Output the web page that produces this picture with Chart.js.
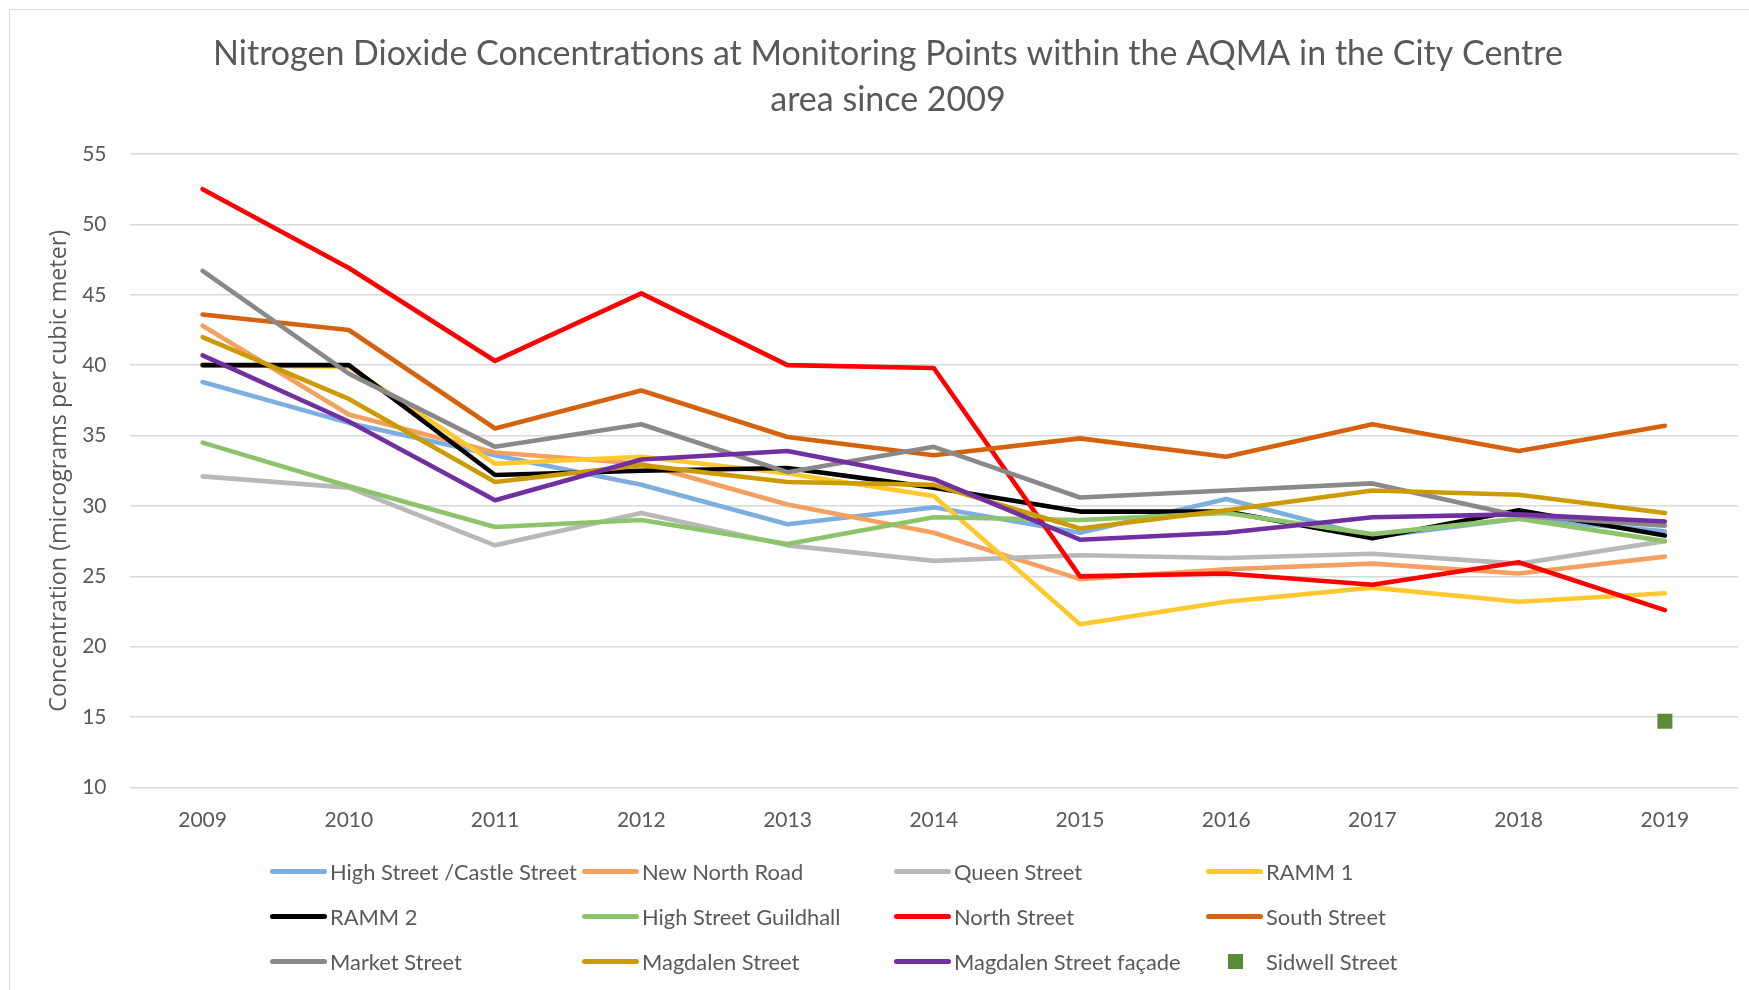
<!DOCTYPE html>
<html>
<head>
<meta charset="utf-8">
<script src="https://cdn.jsdelivr.net/npm/chart.js@4"></script>
<style>
  html, body { margin: 0; padding: 0; background: #fff; overflow: hidden; }
  .wrap { position: relative; width: 1749px; height: 990px; }
  .frame { position: absolute; left: 9px; top: 9px; width: 2000px; height: 2000px; border: 1px solid #d9d9d9; box-sizing: border-box; }
  #chart { position: absolute; left: 0; top: 0; }
  .legend { position: absolute; left: 270px; top: 857px; width: 1260px; }
  .legend__item { position: absolute; display: flex; align-items: center; height: 28px; font-family: Lato, sans-serif; font-size: 21.9px; color: #595959; white-space: nowrap; }
  .legend__mark { width: 57px; height: 28px; position: relative; margin-right: 3px; }
  .legend__mark span { position: absolute; left: 0; top: 11.5px; width: 57px; height: 5px; border-radius: 3px; }
  .legend__mark span.square { left: 22px; top: 6.5px; width: 15px; height: 15px; border-radius: 0; }
</style>
</head>
<body>
<div class="wrap">
  <div class="frame"></div>
  <canvas id="chart" width="1749" height="990"></canvas>
  <div class="legend" id="legend"></div>
</div>
<script>
const years = ["2009", "2010", "2011", "2012", "2013", "2014", "2015", "2016", "2017", "2018", "2019"];

const highStreetCastle = [38.8, 35.9, 33.6, 31.5, 28.7, 29.9, 28.1, 30.5, 27.8, 29.1, 28.2];
const newNorthRoad = [42.8, 36.5, 33.8, 33.0, 30.1, 28.1, 24.8, 25.5, 25.9, 25.2, 26.4];
const queenStreet = [32.1, 31.3, 27.2, 29.5, 27.2, 26.1, 26.5, 26.3, 26.6, 25.9, 27.5];
const ramm1 = [40.0, 39.9, 33.0, 33.5, 32.3, 30.7, 21.6, 23.2, 24.2, 23.2, 23.8];
const ramm2 = [40.0, 40.0, 32.2, 32.5, 32.7, 31.3, 29.6, 29.6, 27.7, 29.7, 27.9];
const highStreetGuildhall = [34.5, 31.4, 28.5, 29.0, 27.3, 29.2, 29.0, 29.5, 28.0, 29.1, 27.5];
const northStreet = [52.5, 46.9, 40.3, 45.1, 40.0, 39.8, 25.0, 25.2, 24.4, 26.0, 22.6];
const southStreet = [43.6, 42.5, 35.5, 38.2, 34.9, 33.6, 34.8, 33.5, 35.8, 33.9, 35.7];
const marketStreet = [46.7, 39.4, 34.2, 35.8, 32.4, 34.2, 30.6, 31.1, 31.6, 29.3, 28.6];
const magdalenStreet = [42.0, 37.6, 31.7, 32.9, 31.7, 31.5, 28.4, 29.7, 31.1, 30.8, 29.5];
const magdalenFacade = [40.7, 36.0, 30.4, 33.3, 33.9, 31.9, 27.6, 28.1, 29.2, 29.4, 28.9];
const sidwellStreet = [null, null, null, null, null, null, null, null, null, null, 14.7];

const yTicks = [10, 15, 20, 25, 30, 35, 40, 45, 50, 55];

const series = [
  { label: "High Street /Castle Street", data: highStreetCastle, color: "#7cafdf" },
  { label: "New North Road", data: newNorthRoad, color: "#f4a060" },
  { label: "Queen Street", data: queenStreet, color: "#b8b8b8" },
  { label: "RAMM 1", data: ramm1, color: "#ffc92e" },
  { label: "RAMM 2", data: ramm2, color: "#000000" },
  { label: "High Street Guildhall", data: highStreetGuildhall, color: "#8dc36b" },
  { label: "North Street", data: northStreet, color: "#ff0000" },
  { label: "South Street", data: southStreet, color: "#d5620f" },
  { label: "Market Street", data: marketStreet, color: "#898989" },
  { label: "Magdalen Street", data: magdalenStreet, color: "#cc9b04" },
  { label: "Magdalen Street façade", data: magdalenFacade, color: "#7030a0" },
  { label: "Sidwell Street", data: sidwellStreet, color: "#5b8a3b", marker: true },
];

const datasets = series.map((s, i) => {
  const base = {
    label: s.label,
    data: s.data,
    borderColor: s.color,
    backgroundColor: s.color,
    order: series.length - i,
  };
  if (s.marker) {
    return Object.assign(base, {
      showLine: false,
      pointStyle: "rect",
      pointRadius: 10.6,
      pointBorderWidth: 0,
    });
  }
  return Object.assign(base, {
    borderWidth: 4.6,
    borderJoinStyle: "round",
    borderCapStyle: "round",
    pointRadius: 0,
    tension: 0,
  });
});

const config = {
  type: "line",
  data: { labels: years, datasets: datasets },
  options: {
    responsive: false,
    animation: false,
    layout: { padding: { top: 0, right: 11, bottom: 142.5, left: 38 } },
    plugins: {
      legend: { display: false },
      tooltip: { enabled: false },
      title: {
        display: true,
        text: [
          "Nitrogen Dioxide Concentrations at Monitoring Points within the AQMA in the City Centre",
          "area since 2009",
        ],
        color: "#595959",
        font: { family: "Lato", size: 34, weight: "normal", lineHeight: 1.353 },
        padding: { top: 31, bottom: 31 },
      },
    },
    scales: {
      x: {
        offset: true,
        grid: { display: false },
        border: { display: false },
        ticks: { color: "#595959", font: { family: "Lato", size: 21 }, padding: 12.5 },
        afterFit: (scale) => { scale.height = 60; },
      },
      y: {
        min: 10,
        max: 55,
        afterBuildTicks: (scale) => { scale.ticks = yTicks.map((v) => ({ value: v })); },
        grid: { color: "#d9d9d9", lineWidth: 1.4, drawTicks: false },
        border: { display: false },
        ticks: { color: "#595959", font: { family: "Lato", size: 21 }, padding: 23 },
        title: {
          display: true,
          text: "Concentration (micrograms per cubic meter)",
          color: "#595959",
          font: { family: "Open Sans", size: 23.3 },
          padding: { top: 7, bottom: 0 },
        },
        afterFit: (scale) => { scale.width = 91.5; },
      },
    },
  },
};

const chart = new Chart(document.getElementById("chart"), config);

// HTML legend laid out in Excel-like columns
const legendBox = document.getElementById("legend");
series.forEach((s, i) => {
  const item = document.createElement("div");
  item.className = "legend__item";
  item.style.left = (i % 4) * 312 + "px";
  item.style.top = Math.floor(i / 4) * 45 + "px";
  item.innerHTML = `<div class="legend__mark"><span class="${s.marker ? "square" : ""}" style="background:${s.color}"></span></div>${s.label}`;
  legendBox.appendChild(item);
});
</script>
</body>
</html>
